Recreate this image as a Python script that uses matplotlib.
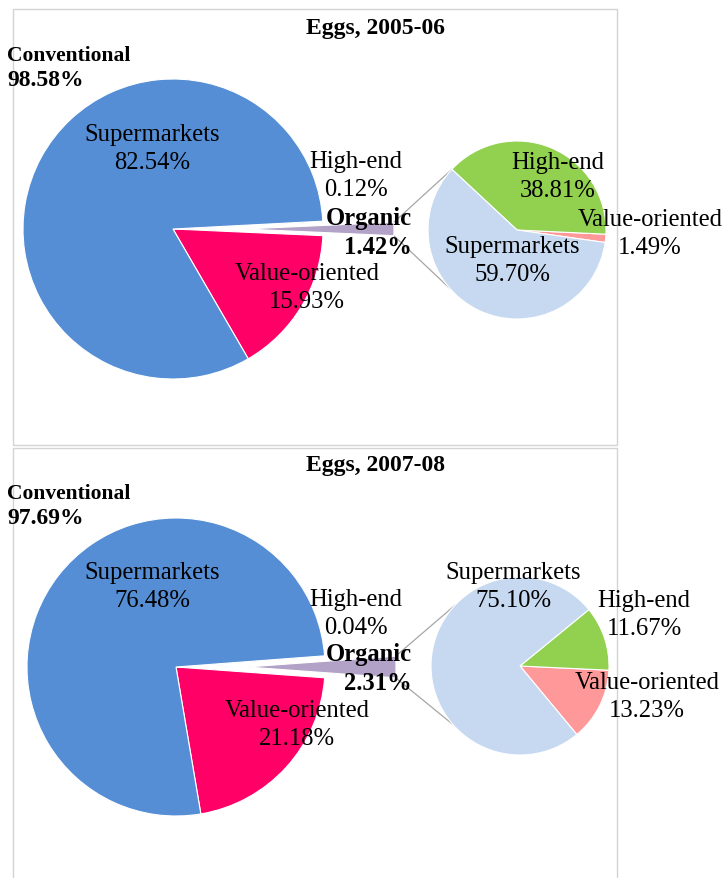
import numpy as np
import matplotlib.pyplot as plt
from matplotlib.patches import Rectangle

plt.rcParams['font.family'] = ['Liberation Serif', 'DejaVu Serif']

W, H = 722, 879

titles = ['Eggs, 2005-06', 'Eggs, 2007-08']
conventional_share = [98.58, 97.69]

# big pie: conventional channels plus the organic slice
big_labels = ['Value-oriented', 'Organic', 'High-end', 'Supermarkets']
big_2005 = [15.93, 1.42, 0.12, 82.54]
big_2007 = [21.18, 2.31, 0.04, 76.48]
big_colors = ['#FF0066', '#B3A2C7', '#9BBB59', '#558ED5']

# small pie: split of the organic slice
small_labels = ['Value-oriented', 'High-end', 'Supermarkets']
small_2005 = [1.49, 38.81, 59.70]
small_2007 = [13.23, 11.67, 75.10]
small_colors = ['#FF9999', '#92D050', '#C6D9F1']

# layout in pixels (y measured from the top)
panels = [
    dict(top=0, big_c=(173, 230), big_r=150, small_c=(517, 231), small_r=89,
         big_pos=[(307, 288), (412, 233), (356, 176), (152, 149)],
         small_pos=[(650, 234), (558, 177), (512, 261)]),
    dict(top=438, big_c=(176, 668), big_r=149, small_c=(520, 667), small_r=89,
         big_pos=[(297, 725), (412, 669), (356, 614), (152, 587)],
         small_pos=[(647, 697), (644, 615), (513, 587)]),
]
big_data = [big_2005, big_2007]
small_data = [small_2005, small_2007]

FS = 17.7
LS = 1.33


def Y(y):
    return H - y


fig = plt.figure(figsize=(W / 100, H / 100), dpi=100)
ax = fig.add_axes([0, 0, 1, 1])

# panel borders
ax.add_patch(Rectangle((13, Y(446)), 604, 436, fill=False, ec='#D4D4D4', lw=1))
ax.add_patch(Rectangle((13, -5), 604, Y(449) + 5, fill=False, ec='#D4D4D4', lw=1))

wp = dict(edgecolor='white', linewidth=0.8)

for k, p in enumerate(panels):
    top = p['top']
    vals = big_data[k]
    tot = sum(vals)
    # organic slice centred on the horizontal
    start = -360 * (vals[0] + vals[1] / 2) / tot
    expl = 71
    bx, by = p['big_c'][0], Y(p['big_c'][1])
    ax.pie(vals, colors=big_colors, startangle=start, center=(bx, by),
           radius=p['big_r'], explode=[0, expl, 0, 0], wedgeprops=wp, frame=True)

    svals = small_data[k]
    stot = sum(svals)
    sstart = -2.7 - 360 * svals[0] / stot
    sx, sy = p['small_c'][0], Y(p['small_c'][1])
    ax.pie(svals, colors=small_colors, startangle=sstart, center=(sx, sy),
           radius=p['small_r'], wedgeprops=wp, frame=True)

    # connector lines from organic wedge tip to small pie
    half = 180 * vals[1] / tot
    ox = bx + expl
    for a_big, a_small in [(half, 137), (-half, 221)]:
        x0 = ox + p['big_r'] * np.cos(np.radians(a_big))
        y0 = by + p['big_r'] * np.sin(np.radians(a_big))
        x1 = sx + p['small_r'] * np.cos(np.radians(a_small))
        y1 = sy + p['small_r'] * np.sin(np.radians(a_small))
        ax.plot([x0, x1], [y0, y1], color='#A6A6A6', lw=0.9, zorder=0)

    # texts
    ax.text(375, Y(top + 28), titles[k], ha='center', va='center',
            fontsize=17, fontweight='bold')
    ax.text(7, Y(top + 56), 'Conventional', ha='left', va='center',
            fontsize=15.5, fontweight='bold')
    ax.text(7, Y(top + 80), f'{conventional_share[k]:.2f}%', ha='left', va='center',
            fontsize=17, fontweight='bold')

    for name, v, (lx, ly) in zip(big_labels, vals, p['big_pos']):
        if name == 'Organic':
            ax.text(lx, Y(ly), f'{name}\n{v:.2f}%', ha='right', va='center',
                    multialignment='right', fontsize=FS, fontweight='bold',
                    linespacing=LS)
        else:
            ax.text(lx, Y(ly), f'{name}\n{v:.2f}%', ha='center', va='center',
                    fontsize=FS, linespacing=LS)
    for name, v, (lx, ly) in zip(small_labels, svals, p['small_pos']):
        ax.text(lx, Y(ly), f'{name}\n{v:.2f}%', ha='center', va='center',
                fontsize=FS, linespacing=LS)

ax.set_xlim(0, W)
ax.set_ylim(0, H)
ax.set_aspect('auto')
ax.axis('off')

fig.savefig('out.png', dpi=100)
